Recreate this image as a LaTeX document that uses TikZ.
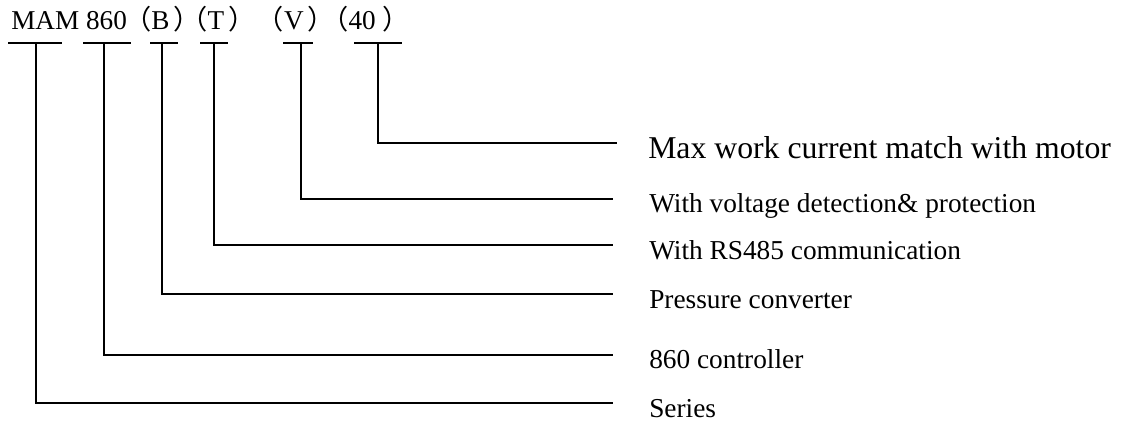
\documentclass[tikz,border=0pt]{standalone}
\usepackage{fontspec}
\setmainfont{Liberation Serif}
\newfontfamily\cjk{Noto Sans CJK SC}
\usetikzlibrary{positioning}

\tikzset{
  codetext/.style={anchor=base west, inner sep=0pt, font=\fontsize{20.4}{24}\selectfont},
  desc/.style={anchor=base west, inner sep=0pt, font=\fontsize{20.5}{24}\selectfont},
  bigdesc/.style={desc, font=\fontsize{23.8}{28}\selectfont},
  wire/.style={line width=1.3pt}
}
\newcommand{\lpar}{\kern-0.1em{\cjk （}}
\newcommand{\rpar}{\kern0.15em{\cjk ）}\kern-0.65em}

\begin{document}
\begin{tikzpicture}[x=0.75pt, y=-0.75pt]
    \useasboundingbox (0,0) rectangle (1121,426);

    % Model code
    \node[codetext] (code) at (11,29) {MAM 860\lpar B\rpar\lpar T\rpar\hspace{0.8em}\lpar V\rpar\kern0.25em\lpar 40\kern0.1em\rpar};

    % Meaning of each part
    \node[bigdesc] (cur) at (648,158) {Max work current match with motor};
    \node[desc] (volt) at (649,212) {With voltage detection\& protection};
    \node[desc] (comm) at (649,259) {With RS485 communication};
    \node[desc] (pres) at (649,308) {Pressure converter};
    \node[desc] (ctrl) at (649,368) {860 controller};
    \node[desc] (ser) at (649,417) {Series};

    % Bars under the code, leader lines to the texts
    \foreach \l/\s/\r/\g/\d/\name in {8/36/62/36/14/ser, 83/104/131/36/13/ctrl,
        150/162/178/36/14/pres, 200/214/228/36/14/comm, 283/301/313/36/13/volt,
        354/378/402/31/15/cur}
    {
        \draw[wire] (\l,43) -- (\r,43);
        \draw[wire] (\s,43) |- ([shift={(-\g,-\d)}]\name.base west);
    }
\end{tikzpicture}
\end{document}
